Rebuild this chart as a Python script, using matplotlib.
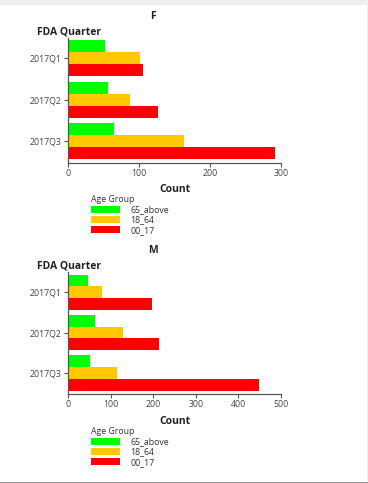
import numpy as np
import matplotlib
matplotlib.use("Agg")
import matplotlib.pyplot as plt
from matplotlib.patches import Patch, Rectangle

plt.rcParams['font.family'] = ['Open Sans', 'DejaVu Sans']

quarters = ["2017Q1", "2017Q2", "2017Q3"]
age_groups = ["65_above", "18_64", "00_17"]
colors = ["#00ff00", "#ffc800", "#ff0000"]

# counts per quarter, one list per age group
f_65_above = [52, 57, 65]
f_18_64 = [101, 88, 163]
f_00_17 = [106, 127, 291]

m_65_above = [47, 63, 51]
m_18_64 = [80, 129, 115]
m_00_17 = [197, 214, 448]

W, H = 368, 483
fig = plt.figure(figsize=(W / 100, H / 100), dpi=100)

# page frame (grey strip on top, thin line right / bottom)
fig.patches.append(Rectangle((0, 1 - 4.5 / H), 1, 4.5 / H, transform=fig.transFigure,
                             facecolor="#eeeeee", edgecolor="none"))
fig.patches.append(Rectangle((1 - 1.5 / W, 0), 1.5 / W, 1, transform=fig.transFigure,
                             facecolor="#efefef", edgecolor="none"))
fig.patches.append(Rectangle((0, 0), 1, 1.2 / H, transform=fig.transFigure,
                             facecolor="#999999", edgecolor="none"))


def panel(top_px, bottom_px, title, series, xmax, xticks, count_y, legend_y):
    ax = fig.add_axes([68 / W, 1 - bottom_px / H, 213 / W, (bottom_px - top_px) / H])
    y = np.arange(len(quarters))
    h = 0.29
    offsets = [-h, 0, h]
    for vals, off, c in zip(series, offsets, colors):
        ax.barh(y + off, vals, height=h, color=c, edgecolor="none")
    ax.set_xlim(0, xmax)
    ax.set_ylim(2.52, -0.5)
    ax.set_yticks(y)
    ax.set_yticklabels(quarters)
    ax.set_xticks(xticks)
    for s in ["top", "right"]:
        ax.spines[s].set_visible(False)
    for s in ["left", "bottom"]:
        ax.spines[s].set_color("#555555")
        ax.spines[s].set_linewidth(0.9)
    ax.tick_params(labelsize=6.3, colors="#555555", labelcolor="#444444",
                   length=3, width=0.8, pad=1.5)
    fig.text(153 / W, 1 - (top_px - 21) / H, title, ha="center", va="center",
             fontsize=7.5, fontweight="bold", color="#222222")
    fig.text(37 / W, 1 - (top_px - 6) / H, "FDA Quarter", ha="left", va="center",
             fontsize=7.5, fontweight="bold", color="#222222")
    fig.text(174.5 / W, 1 - count_y / H, "Count", ha="center", va="center",
             fontsize=7.5, fontweight="bold", color="#222222")
    handles = [Patch(facecolor=c, edgecolor="none", label=g) for g, c in zip(age_groups, colors)]
    leg = ax.legend(handles=handles, title="Age Group", loc="upper left",
                    bbox_to_anchor=(91 / W, 1 - legend_y / H), bbox_transform=fig.transFigure,
                    frameon=False, fontsize=6.3, title_fontsize=6.3, borderpad=0,
                    handlelength=3.3, handleheight=0.95, handletextpad=1.2,
                    labelspacing=0.12, borderaxespad=0)
    leg._legend_box.align = "left"
    for t in leg.get_texts():
        t.set_color("#333333")
    leg.get_title().set_color("#333333")
    return ax


panel(37.7, 162.7, "F", [f_65_above, f_18_64, f_00_17], 300, [0, 100, 200, 300], 189, 195.5)
panel(272, 394, "M", [m_65_above, m_18_64, m_00_17], 500, [0, 100, 200, 300, 400, 500], 421.7, 427.5)

fig.savefig("out.png", dpi=100, facecolor="white")
